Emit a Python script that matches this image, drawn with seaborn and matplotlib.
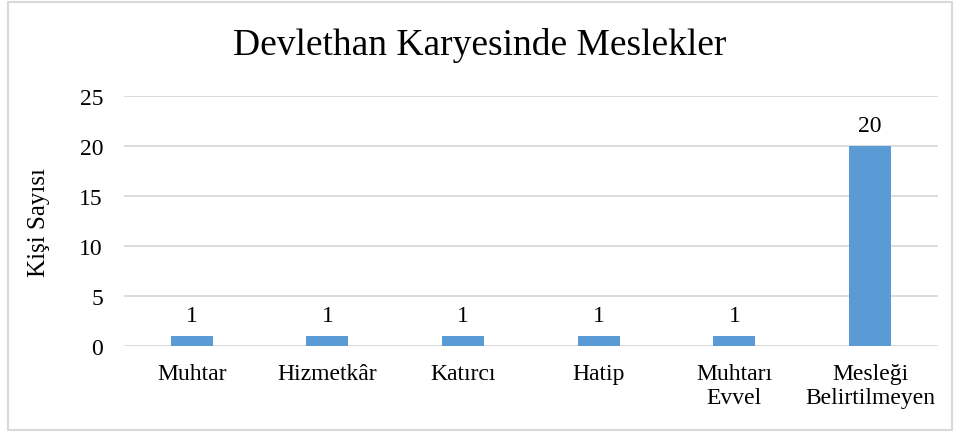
import matplotlib
matplotlib.use('Agg')
import matplotlib.pyplot as plt
import seaborn as sns
import pandas as pd
from matplotlib.patches import Rectangle

# Data
categories = ['Muhtar', 'Hizmetkâr', 'Katırcı', 'Hatip', 'Muhtarı\nEvvel', 'Mesleği\nBelirtilmeyen']
counts = [1, 1, 1, 1, 1, 20]
y_ticks = [0, 5, 10, 15, 20, 25]

df = pd.DataFrame({'Meslek': categories, 'Kişi': counts})

sns.set_theme(style='white')
plt.rcParams['font.family'] = ['Liberation Serif', 'DejaVu Serif']
plt.rcParams['text.color'] = 'black'
plt.rcParams['xtick.color'] = 'black'
plt.rcParams['ytick.color'] = 'black'
plt.rcParams['axes.labelcolor'] = 'black'

fig = plt.figure(figsize=(9.6, 4.35), dpi=100)
ax = fig.add_axes([0.129, 0.2023, 0.848, 0.5747])

sns.barplot(data=df, x='Meslek', y='Kişi', color='#5B9BD5', width=0.31,
            saturation=1, linewidth=0, edgecolor='none', ax=ax, zorder=3)

# Value labels above bars
for i, v in enumerate(counts):
    ax.text(i, v + 1.0, str(v), ha='center', va='bottom', fontsize=17, color='black')

ax.set_ylim(0, 25)
ax.set_yticks(y_ticks)
ax.set_xlim(-0.5, len(categories) - 0.5)
ax.yaxis.grid(True, color='#D9D9D9', linewidth=1.3, zorder=0)
ax.set_axisbelow(True)
for s in ['top', 'right', 'left', 'bottom']:
    ax.spines[s].set_visible(False)
ax.tick_params(axis='y', labelsize=17, length=0, pad=15)
ax.tick_params(axis='x', labelsize=17, length=0, pad=12)
for lbl in ax.get_xticklabels():
    lbl.set_linespacing(1.2)
ax.set_xlabel('')
ax.set_ylabel('Kişi Sayısı', fontsize=18, labelpad=21)

fig.text(0.5, 0.895, 'Devlethan Karyesinde Meslekler', ha='center', va='center', fontsize=27)

# Outer chart border
fig.patches.append(Rectangle((0.008, 0.01), 0.984, 0.982, transform=fig.transFigure,
                             fill=False, edgecolor='#D9D9D9', linewidth=1.5))

fig.savefig('out.png', dpi=100)
